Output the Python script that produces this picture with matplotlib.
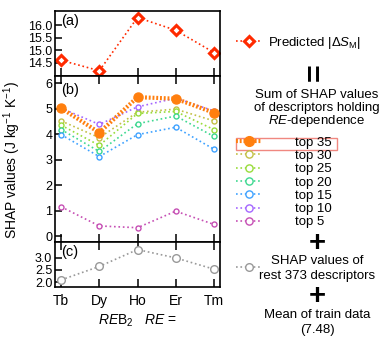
import matplotlib
matplotlib.use("Agg")
import matplotlib.pyplot as plt
from matplotlib.patches import Rectangle

plt.rcParams["font.family"] = ["Liberation Sans", "DejaVu Sans"]
plt.rcParams["mathtext.fontset"] = "custom"
plt.rcParams["mathtext.rm"] = "Liberation Sans"
plt.rcParams["mathtext.it"] = "Liberation Sans:italic"

# data
elements = ["Tb", "Dy", "Ho", "Er", "Tm"]
predicted = [14.60, 14.18, 16.31, 15.80, 14.91]

top_labels = ["top 35", "top 30", "top 25", "top 20", "top 15", "top 10", "top 5"]
top35 = [5.03, 4.07, 5.46, 5.40, 4.85]
top30 = [4.53, 3.87, 4.87, 4.99, 4.53]
top25 = [4.36, 3.57, 4.82, 4.90, 4.19]
top20 = [4.19, 3.33, 4.42, 4.72, 3.92]
top15 = [3.99, 3.13, 3.99, 4.28, 3.42]
top10 = [5.03, 4.39, 5.08, 5.42, 4.92]
top5 = [1.16, 0.41, 0.34, 0.99, 0.47]
rest = [2.09, 2.64, 3.33, 2.99, 2.53]

top_colors = ["#ff7f0e", "#c2c045", "#98dc3a", "#3ed890", "#3ea2ff", "#a466ff", "#c64fb4"]

W, H = 382, 350


def px_axes(x0, y0, x1, y1):
    """axes from pixel box (top-left origin)"""
    return fig.add_axes([x0 / W, 1 - y1 / H, (x1 - x0) / W, (y1 - y0) / H])


fig = plt.figure(figsize=(W / 100, H / 100), dpi=100)
ax_a = px_axes(55, 11, 220, 76)
ax_b = px_axes(55, 76, 220, 242)
ax_c = px_axes(55, 242, 220, 287)

x = list(range(len(elements)))

# (a) predicted
line_pred, = ax_a.plot(x, predicted, ":", color="#ff2a00", lw=1.2, marker="D", ms=5.5,
                       mfc="white", mec="#ff2a00", mew=2.2)
ax_a.set_ylim(13.97, 16.57)
ax_a.set_yticks([14.5, 15.0, 15.5, 16.0])
ax_a.set_yticklabels(["14.5", "15.0", "15.5", "16.0"])

# (b) sums of SHAP values
series = [top35, top30, top25, top20, top15, top10, top5]
handles = []
for i, (vals, col) in enumerate(zip(series, top_colors)):
    if i == 0:
        h, = ax_b.plot(x, vals, color=col, lw=3.0, ls=(0, (0.45, 0.45)), marker="o", ms=6.5,
                       mfc=col, mec=col, zorder=5)
    else:
        h, = ax_b.plot(x, vals, ":", color=col, lw=1.2, marker="o", ms=3.6, mfc="white",
                       mec=col, mew=1.0)
    handles.append(h)
ax_b.set_ylim(-0.22, 6.29)
ax_b.set_yticks(range(7))

# (c) rest
line_rest, = ax_c.plot(x, rest, ":", color="#999999", lw=1.2, marker="o", ms=5.5, mfc="white",
                       mec="#999999", mew=1.0)
ax_c.set_ylim(1.8, 3.64)
ax_c.set_yticks([2.0, 2.5, 3.0])
ax_c.set_yticklabels(["2.0", "2.5", "3.0"])

for ax, lab in zip([ax_a, ax_b, ax_c], ["(a)", "(b)", "(c)"]):
    ax.set_xlim(-0.16, 4.16)
    ax.set_xticks(x)
    for s in ax.spines.values():
        s.set_linewidth(1.2)
    ax.tick_params(axis="y", direction="in", length=5, width=1.1, labelsize=9, pad=2)
    ax.tick_params(axis="x", direction="in", length=6, width=1.1, top=(ax is not ax_a),
                   labelbottom=(ax is ax_c), labelsize=10, pad=5)
    ax.text(0.04, 0.96 if ax is not ax_c else 0.93, lab, transform=ax.transAxes,
            fontsize=10.5, va="top", ha="left")

ax_c.set_xticklabels(elements)
ax_c.set_xlabel("$RE$B$_2$   $RE$ =", fontsize=10, labelpad=3)
fig.text(12 / W, 1 - 160 / H, "SHAP values (J kg$^{-1}$ K$^{-1}$)", rotation=90,
         ha="center", va="center", fontsize=10)

# right-hand side explanation
fs = 9.5
cx = 317 / W


def fy(py):
    return 1 - py / H


fig.legend([line_pred], ["Predicted |Δ$S_{\\mathrm{M}}$|"], loc="center left",
           bbox_to_anchor=(236 / W, fy(43)), frameon=False, fontsize=fs,
           handlelength=1.9, handletextpad=0.5, borderpad=0, borderaxespad=0)
fig.text(cx, fy(72), "=", rotation=90, ha="center", va="center", fontsize=22, fontweight="bold")
fig.text(cx, fy(95), "Sum of SHAP values", ha="center", va="center", fontsize=fs)
fig.text(cx, fy(108), "of descriptors holding", ha="center", va="center", fontsize=fs)
fig.text(cx, fy(121), "$RE$-dependence", ha="center", va="center", fontsize=fs)

leg = fig.legend(handles, top_labels, loc="upper left", bbox_to_anchor=(236 / W, fy(136.5)),
                 frameon=False, fontsize=fs, handlelength=1.9, handletextpad=2.6,
                 labelspacing=0.08, borderpad=0, borderaxespad=0)
for i, lh in enumerate(leg.legend_handles):
    lh.set_markersize(7.0 if i == 0 else 5.2)
fig.add_artist(Rectangle((236 / W, fy(149.5)), 101 / W, 12 / H, transform=fig.transFigure,
                         fill=False, edgecolor="#f08880", lw=1.0))

fig.text(cx, fy(243), "+", ha="center", va="center", fontsize=21, fontweight="bold")
fig.legend([line_rest], [""], loc="center left", bbox_to_anchor=(236 / W, fy(268)),
           frameon=False, fontsize=fs, handlelength=1.9, borderpad=0, borderaxespad=0)
fig.text(cx, fy(261.5), "SHAP values of", ha="center", va="center", fontsize=fs)
fig.text(cx, fy(276.5), "rest 373 descriptors", ha="center", va="center", fontsize=fs)
fig.text(cx, fy(296), "+", ha="center", va="center", fontsize=21, fontweight="bold")
fig.text(cx, fy(314.5), "Mean of train data", ha="center", va="center", fontsize=fs)
fig.text(cx, fy(329.5), "(7.48)", ha="center", va="center", fontsize=fs)

fig.savefig("out.png", dpi=100)
